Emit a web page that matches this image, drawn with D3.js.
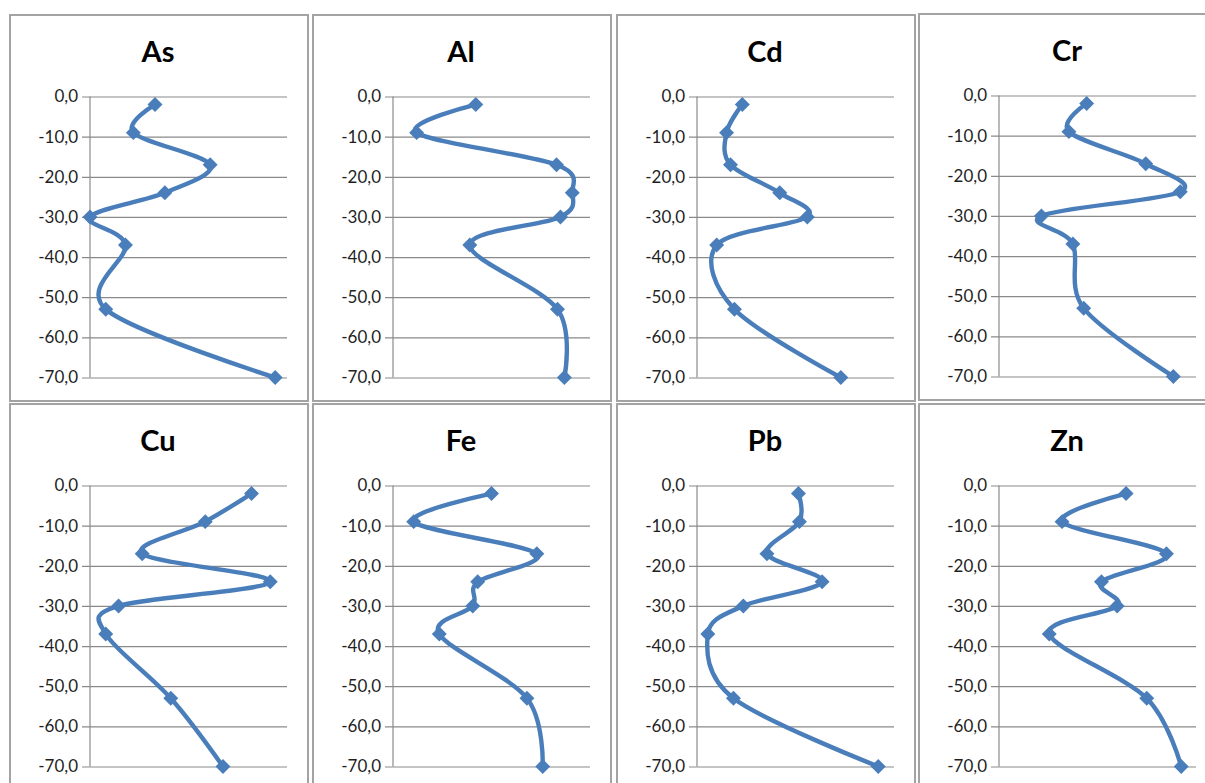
<!DOCTYPE html>
<html>
<head>
<meta charset="utf-8">
<script src="https://cdn.jsdelivr.net/npm/d3@7"></script>
<style>
  html, body { margin: 0; padding: 0; background: #fff; }
  svg { display: block; }
</style>
</head>
<body>
<svg id="chart" width="1205" height="783"></svg>
<script>
// Sampling depths (cm) shared by every profile
const depths = [-2, -9, -17, -24, -30, -37, -53, -70];

// Relative concentration per depth for each element (0–100 of panel width)
const asValues = [33, 22, 61, 38, 0, 18, 8, 94];
const alValues = [42, 12, 83, 91, 85, 39, 83.5, 87];
const cdValues = [23, 15, 17, 42, 56, 10, 19, 73];
const crValues = [44.5, 35.5, 74.5, 92, 21.5, 37.5, 43, 88.5];
const cuValues = [82, 58.5, 26.5, 91.5, 14.5, 8, 41, 67.5];
const feValues = [50, 10.5, 73, 43, 40.5, 23.5, 68, 76];
const pbValues = [51.5, 52, 35.5, 63.5, 23.5, 5.5, 18.5, 92];
const znValues = [64.5, 32, 85, 52, 60, 25.5, 75, 92.5];

const elements = ["As", "Al", "Cd", "Cr", "Cu", "Fe", "Pb", "Zn"];
const seriesValues = [asValues, alValues, cdValues, crValues, cuValues, feValues, pbValues, znValues];

// Depth axis ticks
const depthTicks = [0, -10, -20, -30, -40, -50, -60, -70];

// Panel frames (left, top) laid out as a 2 x 4 grid
const frameLefts = [10, 313, 617, 919];
const frameTops = [15, 404];
const frameW = 298, frameH = 386;

const svg = d3.select("#chart");
const blue = "#4a7ebb";
const fmt = v => d3.format(".1f")(v).replace(".", ",").replace("\u2212", "-");

elements.forEach((name, i) => {
  const col = i % 4, row = Math.floor(i / 4);
  const left = frameLefts[col];
  const top = frameTops[row] - (col === 3 && row === 0 ? 1 : 0);
  const g = svg.append("g");

  // chart frame
  g.append("rect")
    .attr("x", left).attr("y", top)
    .attr("width", frameW).attr("height", frameH)
    .attr("fill", "#fff")
    .attr("stroke", "#a3a3a3").attr("stroke-width", 2);

  const x0 = left + 80, x1 = left + 277;
  const yTop = top + 81.5, yBot = top + 362.5;

  const x = d3.scaleLinear().domain([0, 100]).range([x0, x1]);
  const y = d3.scaleLinear().domain([-70, 0]).range([yBot, yTop]);

  // title
  g.append("text")
    .attr("x", left + 148).attr("y", top + 47)
    .attr("text-anchor", "middle")
    .attr("font-family", "Lato, 'Open Sans', sans-serif")
    .attr("font-weight", "bold")
    .attr("font-size", 29)
    .attr("fill", "#000")
    .text(name);

  // horizontal gridlines with outside tick marks
  const yAxis = d3.axisLeft(y)
    .tickValues(depthTicks)
    .tickFormat(fmt)
    .tickSize(-(x1 - x0))
    .tickPadding(12);
  const ax = g.append("g")
    .attr("transform", `translate(${x0},0)`)
    .call(yAxis);
  ax.select(".domain").remove();
  ax.selectAll(".tick line")
    .attr("x1", -8)
    .attr("stroke", "#8a8a8a")
    .attr("stroke-width", 1.2);
  ax.selectAll(".tick text")
    .attr("font-family", "Lato, 'Open Sans', sans-serif")
    .attr("font-size", 17)
    .attr("fill", "#1f1f1f")
    .attr("x", -12);

  // vertical axis line
  g.append("line")
    .attr("x1", x0).attr("x2", x0)
    .attr("y1", y(0)).attr("y2", y(-70))
    .attr("stroke", "#8a8a8a").attr("stroke-width", 1.2);

  const pts = depths.map((d, k) => [seriesValues[i][k], d]);

  const line = d3.line()
    .x(p => x(p[0]))
    .y(p => y(p[1]))
    .curve(d3.curveCardinal.tension(0));

  g.append("path")
    .datum(pts)
    .attr("d", line)
    .attr("fill", "none")
    .attr("stroke", blue)
    .attr("stroke-width", 4.4)
    .attr("stroke-linejoin", "round")
    .attr("stroke-linecap", "round");

  g.selectAll(".marker")
    .data(pts)
    .join("path")
    .attr("class", "marker")
    .attr("d", d3.symbol().type(d3.symbolSquare).size(112))
    .attr("transform", p => `translate(${x(p[0])},${y(p[1])}) rotate(45)`)
    .attr("fill", blue);
});
</script>
</body>
</html>
